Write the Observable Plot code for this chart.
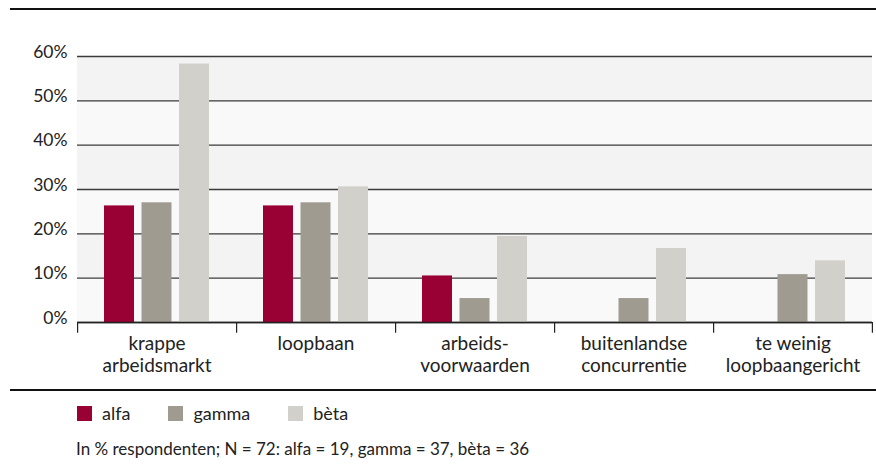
<!DOCTYPE html>
<html>
<head>
<meta charset="utf-8">
<script src="https://cdn.jsdelivr.net/npm/d3@7"></script>
<script src="https://cdn.jsdelivr.net/npm/@observablehq/plot@0.6"></script>
<style>
  body { margin: 0; background: #fff; font-family: Lato, "Open Sans", sans-serif; color: #222; }
  #wrap { position: relative; width: 876px; height: 469px; }
  .hline { position: absolute; left: 10px; width: 866px; height: 2px; background: #111; }
  #legend { position: absolute; left: 77px; top: 406px; display: flex; align-items: center; font-size: 18px; line-height: 15px; }
  .item { display: flex; align-items: center; margin-right: 38px; }
  .sw { width: 15px; height: 15px; margin-right: 10px; }
  #caption { position: absolute; left: 76px; top: 438px; font-size: 17px; }
  #chart { position: absolute; left: 0; top: 0; }
</style>
</head>
<body>
<div id="wrap">
  <div class="hline" style="top:8px"></div>
  <div id="chart"></div>
  <div class="hline" style="top:389px"></div>
  <div id="legend"></div>
  <div id="caption">In % respondenten; N = 72: alfa = 19, gamma = 37, bèta = 36</div>
</div>
<script>
const categories = ["krappe\narbeidsmarkt", "loopbaan", "arbeids-\nvoorwaarden", "buitenlandse\nconcurrentie", "te weinig\nloopbaangericht"];
const series = ["alfa", "gamma", "bèta"];
const colors = ["#990033", "#a09b90", "#d1d0cb"];
const alfa = [26.3, 26.3, 10.5, 0, 0];
const gamma = [27.0, 27.0, 5.4, 5.4, 10.8];
const beta = [58.3, 30.6, 19.4, 16.7, 13.9];
const yTicks = [0, 10, 20, 30, 40, 50, 60];

const values = [alfa, gamma, beta];
const data = [];
series.forEach((s, si) => categories.forEach((c, ci) => data.push({cat: c, series: s, value: values[si][ci]})));

const bands = yTicks.slice(0, -1).map((t, i) => ({y1: t, y2: yTicks[i + 1], fill: (yTicks.length - 2 - i) % 2 === 0 ? "#f3f3f3" : "#f9f9f9"}));

const offsets = [-37.5, 0, 37.5];
const barMarks = series.map((s, si) => Plot.barY(data.filter(d => d.series === s && d.value > 0), {
  x: "cat", y: "value", fill: colors[si], dx: offsets[si], insetLeft: 64.5, insetRight: 64.5
}));

const chart = Plot.plot({
  width: 876,
  height: 390,
  marginTop: 56,
  marginBottom: 68,
  marginLeft: 77,
  marginRight: 4,
  style: {fontFamily: "Lato, 'Open Sans', sans-serif", fontSize: "16px", color: "#222", background: "transparent"},
  x: {domain: categories, padding: 0, label: null},
  y: {domain: [0, 60], label: null},
  marks: [
    Plot.rectY(bands, {y1: "y1", y2: "y2", fill: "fill"}),
    Plot.ruleY(yTicks, {stroke: "#3a3a3a", strokeWidth: 1.4}),
    ...barMarks,
    Plot.ruleY([0], {stroke: "#222", strokeWidth: 1.4}),
    Plot.ruleX(categories, {x: d => d, dx: -79.4, y1: 0, y2: -2.4, stroke: "#222", strokeWidth: 1.2}),
    Plot.ruleX(categories.slice(-1), {x: d => d, dx: 79.4, y1: 0, y2: -2.4, stroke: "#222", strokeWidth: 1.2}),
    Plot.axisY({ticks: yTicks, tickSize: 0, tickPadding: 10, lineAnchor: "bottom", dy: 1, fontSize: 17.5, tickFormat: d => d + "%", fill: "#222"}),
    Plot.axisX({tickSize: 0, tickPadding: 12, lineHeight: 1.16, fontSize: 19, fill: "#222"})
  ]
});
document.getElementById("chart").appendChild(chart);

const legend = document.getElementById("legend");
series.forEach((s, i) => {
  const item = document.createElement("div");
  item.className = "item";
  item.innerHTML = `<div class="sw" style="background:${colors[i]}"></div><span>${s}</span>`;
  legend.appendChild(item);
});
</script>
</body>
</html>
